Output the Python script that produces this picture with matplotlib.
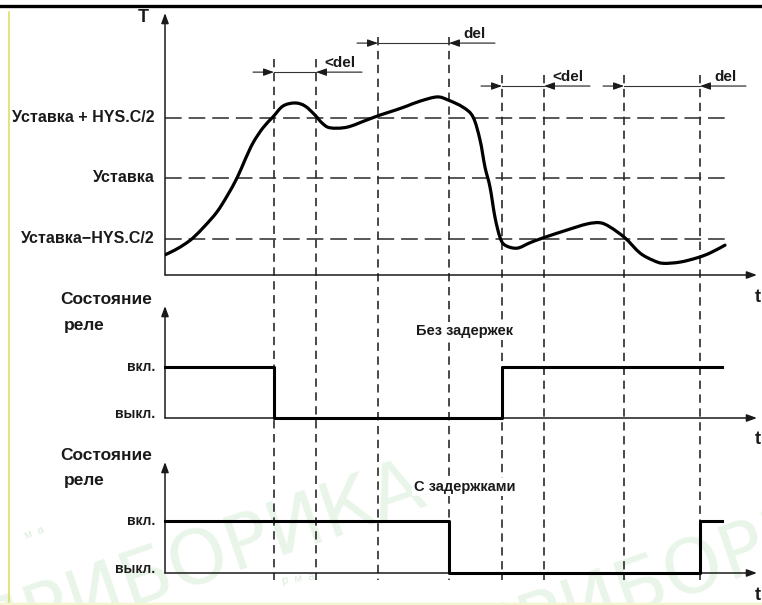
import matplotlib.pyplot as plt
from matplotlib.lines import Line2D
from matplotlib.path import Path
from matplotlib.patches import PathPatch

plt.rcParams['font.family'] = ['Liberation Sans Narrow', 'Liberation Sans', 'DejaVu Sans']
plt.rcParams['font.weight'] = 'bold'
plt.rcParams['lines.scale_dashes'] = False

# switching moments on the time axis (arbitrary units)
t_events = [10.9, 15.1, 21.3, 28.4, 33.7, 37.9, 45.9, 53.5]
event_tops = [1.97, 1.97, 2.33, 2.33, 1.70, 1.70, 1.70, 1.70]

# temperature curve, in units of HYS.C/2 around the setpoint
t_curve = [0.0, 1.0, 2.0, 2.8, 4.0, 5.2, 6.2, 7.2, 8.0, 8.8, 9.8, 10.8, 11.8, 13.0,
           14.0, 15.0, 15.7, 16.5, 18.2, 20.2, 21.5, 23.0, 24.2, 25.5, 27.2, 28.3,
           29.8, 30.8, 31.5, 32.0, 32.5, 33.0, 33.5, 34.0, 35.2, 36.5, 37.8, 40.2,
           42.2, 43.5, 44.5, 46.0, 47.5, 48.8, 49.8, 51.5, 53.2, 54.5, 56.0]
T_curve = [-1.27, -1.19, -1.09, -0.99, -0.79, -0.56, -0.30, 0.0, 0.30, 0.58, 0.83,
           1.01, 1.19, 1.24, 1.19, 1.04, 0.91, 0.83, 0.84, 0.96, 1.04, 1.12, 1.19,
           1.27, 1.34, 1.29, 1.17, 1.01, 0.63, 0.18, -0.15, -0.65, -0.98, -1.11,
           -1.16, -1.07, -0.99, -0.86, -0.76, -0.74, -0.81, -0.99, -1.24, -1.36,
           -1.41, -1.39, -1.32, -1.24, -1.11]

levels = [1, 0, -1]
level_labels = ['Уставка + HYS.C/2', 'Уставка', 'Уставка\u2212HYS.C/2']

# relay states (1 = вкл., 0 = выкл.)
relay_t_nodelay = [0, 10.9, 33.7, 55.7]
relay_s_nodelay = [1, 0, 1, 1]
relay_t_delay = [0, 28.4, 53.5, 55.7]
relay_s_delay = [1, 0, 1, 1]

# dimension marks: (index of left event, index of right event, text, level)
dims = [(0, 1, '<del', 1.75), (2, 3, 'del', 2.23), (4, 5, '<del', 1.52), (6, 7, 'del', 1.52)]

ink = '#1a1a1a'
W, H = 762, 605
fig = plt.figure(figsize=(W / 100, H / 100), dpi=100)

x0 = 165 / W
w = 592 / W
tmax = 59.2


def panel(bottom_px, top_px, ylo, yhi):
    ax = fig.add_axes([x0, (H - bottom_px) / H, w, (bottom_px - top_px) / H])
    ax.set_facecolor('none')
    ax.set_xlim(0, tmax)
    ax.set_ylim(ylo, yhi)
    ax.axis('off')
    arr = dict(arrowstyle='-|>,head_length=0.6,head_width=0.22', lw=1.1, color=ink,
               shrinkA=0, shrinkB=0, mutation_scale=10)
    ax.annotate('', xy=(0, 1), xytext=(0, 0), xycoords='axes fraction', arrowprops=arr)
    ax.annotate('', xy=(1, 0), xytext=(0, 0), xycoords='axes fraction', arrowprops=arr)
    return ax


def smooth_path(xs, ys):
    # Catmull-Rom through the read points, drawn as cubic Bezier segments
    pts = list(zip(xs, ys))
    verts = [pts[0]]
    codes = [Path.MOVETO]
    n = len(pts)
    for i in range(n - 1):
        p0 = pts[max(i - 1, 0)]
        p1 = pts[i]
        p2 = pts[i + 1]
        p3 = pts[min(i + 2, n - 1)]
        c1 = (p1[0] + (p2[0] - p0[0]) / 6, p1[1] + (p2[1] - p0[1]) / 6)
        c2 = (p2[0] - (p3[0] - p1[0]) / 6, p2[1] - (p3[1] - p1[1]) / 6)
        verts += [c1, c2, p2]
        codes += [Path.CURVE4] * 3
    return Path(verts, codes)


# watermark
wm = dict(fontsize=54, fontweight='normal', color='#e9f5e9', rotation=19,
          family='DejaVu Sans', zorder=-5)
fig.text(-0.05, -0.085, 'ПРИБОРИКА', **wm)
fig.text(0.60, -0.10, 'ПРИБОРИКА', **wm)
fig.text(0.03, 0.11, 'м  а', fontsize=8, fontweight='normal', color='#dcecdc', rotation=20,
         zorder=-5)
fig.text(0.37, 0.035, 'р  м  а', fontsize=8, fontweight='normal', color='#dcecdc',
         rotation=8, zorder=-5)

# frame lines
fig.add_artist(Line2D([0, 1], [1 - 6 / H, 1 - 6 / H], color='black', lw=2.4))
fig.add_artist(Line2D([9 / W, 9 / W], [0, 1 - 12 / H], color='#dede6a', lw=1.2))
fig.add_artist(Line2D([0, 1], [1.5 / H, 1.5 / H], color='#f3f5cf', lw=2.5))

# temperature panel
k = 60.5
ax1 = panel(275, 13, -(275 - 178) / k, (178 - 13) / k)
for lv, lab in zip(levels, level_labels):
    ax1.plot([0, 56.0], [lv, lv], color='#2a2a2a', lw=1.1, dashes=(12, 5))
    ax1.text(-1.0, lv, lab, ha='right', va='center', fontsize=11.5, color=ink)
ax1.add_patch(PathPatch(smooth_path(t_curve, T_curve), fill=False, edgecolor='black',
                        lw=2.3, joinstyle='round', capstyle='round', zorder=5))
ax1.text(-2.2, (178 - 18) / k, 'T', ha='center', va='center', fontsize=13, color=ink)
ax1.text(59.3, (178 - 297) / k, 't', ha='center', va='center', fontsize=13, color=ink,
         clip_on=False)

for te, top in zip(t_events, event_tops):
    ax1.plot([te, te], [top, (178 - 580) / k], color='#2a2a2a', lw=1.2,
             dashes=(6, 4), clip_on=False)

for ia, ib, lab, y in dims:
    ta, tb = t_events[ia], t_events[ib]
    ax1.plot([ta, tb], [y, y], color='#333333', lw=0.8)
    arr = dict(arrowstyle='-|>,head_length=0.7,head_width=0.25', lw=0.8, color=ink,
               shrinkA=0, shrinkB=0, mutation_scale=9)
    ax1.annotate('', xy=(ta, y), xytext=(ta - 2.1, y), arrowprops=arr)
    ax1.annotate('', xy=(tb, y), xytext=(tb + 4.6, y), arrowprops=arr)
    off = 0.8 if lab.startswith('<') else 1.4
    ax1.text(tb + off, y + 0.15, lab, ha='left', va='center', fontsize=11, color=ink)

# relay panels
box = dict(facecolor='white', edgecolor='none', pad=1.5)
for bottom, top, on_px, rt, rs, title in [
        (418, 306, 367, relay_t_nodelay, relay_s_nodelay, 'Без задержек'),
        (573, 462, 521, relay_t_delay, relay_s_delay, 'С задержками')]:
    kr = bottom - on_px
    ax = panel(bottom, top, 0, (bottom - top) / kr)
    ax.step(rt, rs, where='post', color='black', lw=2.2, zorder=5, clip_on=False)
    ax.text(-1.0, 1, 'вкл.', ha='right', va='center', fontsize=10, color=ink)
    ax.text(-1.0, 0.07, 'выкл.', ha='right', va='center', fontsize=10, color=ink)
    ax.text(-5.9, (bottom - (top - 7)) / kr, 'Состояние', ha='center', va='center',
            fontsize=12.5, color=ink)
    ax.text(-10.1, (bottom - (top + 19)) / kr, 'реле', ha='left', va='center',
            fontsize=12.5, color=ink)
    ax.text(30.0, (bottom - (top + 25)) / kr, title, ha='center', va='center',
            fontsize=10.5, color=ink, bbox=box, zorder=10)
    ax.text(59.3, -(22) / kr, 't', ha='center', va='center', fontsize=13, color=ink,
            clip_on=False)

fig.savefig('out.png', dpi=100)
